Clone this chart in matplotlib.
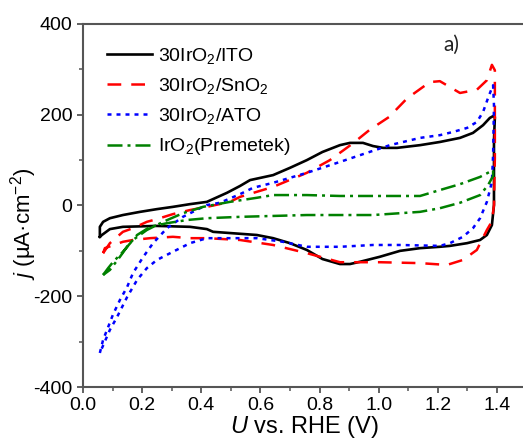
import matplotlib
matplotlib.use("Agg")
import matplotlib.pyplot as plt
from matplotlib.ticker import MultipleLocator, FormatStrFormatter

plt.rcParams["font.family"] = ["Liberation Sans", "DejaVu Sans"]
plt.rcParams["mathtext.fontset"] = "custom"
plt.rcParams["mathtext.rm"] = "Liberation Sans"
plt.rcParams["mathtext.it"] = "Liberation Sans:italic"
plt.rcParams["axes.unicode_minus"] = False

# Cyclic voltammograms: potential (V vs. RHE) and current density (uA/cm2), full loop
ito_u = [0.057, 0.057, 0.068, 0.091, 0.135, 0.193, 0.250, 0.304, 0.362, 0.419, 0.487,
         0.531, 0.565, 0.643, 0.700, 0.757, 0.810, 0.869, 0.903, 0.947, 0.981, 1.015,
         1.062, 1.140, 1.207, 1.275, 1.319, 1.353, 1.376, 1.387, 1.393, 1.390,
         1.390, 1.383, 1.366, 1.343, 1.299, 1.241, 1.207, 1.140, 1.072, 1.004, 0.937,
         0.903, 0.869, 0.810, 0.757, 0.700, 0.643, 0.588, 0.440, 0.419, 0.362, 0.250,
         0.135, 0.091, 0.064, 0.057]
ito_j = [-69, -47, -36, -28, -21, -14, -8, -3, 3, 8, 28,
         43, 56, 67, 83, 100, 118, 133, 138, 138, 131, 127,
         127, 133, 140, 149, 160, 177, 193, 197, 195, 144,
         1, -43, -65, -76, -83, -89, -91, -94, -100, -113, -124,
         -129, -129, -118, -98, -83, -72, -65, -58, -52, -47, -45,
         -47, -52, -65, -69]

sno2_u = [0.068, 0.091, 0.135, 0.169, 0.216, 0.250, 0.304, 0.362, 0.419, 0.497, 0.531,
          0.643, 0.757, 0.835, 0.913, 0.970, 1.035, 1.096, 1.173, 1.207, 1.241, 1.275,
          1.332, 1.366, 1.383, 1.393, 1.393, 1.390, 1.383, 1.366, 1.332, 1.285, 1.231,
          1.140, 1.004, 0.869, 0.757, 0.643, 0.531, 0.419, 0.362, 0.304, 0.227, 0.169,
          0.135, 0.074, 0.068]
sno2_j = [-105, -83, -58, -50, -36, -30, -19, -10, -3, 8, 19,
          41, 72, 100, 137, 167, 195, 236, 272, 274, 261, 248,
          255, 276, 310, 298, 105, 1, -35, -54, -98, -120, -131,
          -127, -125, -125, -105, -87, -76, -72, -72, -69, -72, -76,
          -80, -94, -105]

ato_u = [0.057, 0.068, 0.085, 0.101, 0.125, 0.149, 0.169, 0.203, 0.237, 0.284, 0.338,
         0.396, 0.419, 0.463, 0.531, 0.575, 0.643, 0.757, 0.869, 0.960, 1.038, 1.140,
         1.207, 1.251, 1.299, 1.332, 1.353, 1.370, 1.383, 1.387, 1.390, 1.387, 1.383,
         1.366, 1.343, 1.319, 1.285, 1.241, 1.207, 1.072, 0.981, 0.869, 0.757, 0.676,
         0.588, 0.440, 0.419, 0.362, 0.304, 0.250, 0.216, 0.183, 0.149, 0.115, 0.091,
         0.057]
ato_j = [-325, -296, -268, -241, -208, -180, -149, -114, -83, -50, -25,
         -6, 1, 6, 25, 39, 50, 72, 96, 116, 133, 149,
         155, 162, 171, 184, 206, 237, 259, 265, 221, 111, 52,
         8, -28, -50, -69, -83, -89, -87, -87, -91, -91, -80,
         -72, -72, -72, -83, -102, -120, -138, -164, -202, -246, -274,
         -325]

prem_u = [0.068, 0.085, 0.101, 0.135, 0.169, 0.216, 0.271, 0.338, 0.406, 0.497, 0.588,
          0.643, 0.757, 0.869, 0.981, 1.140, 1.207, 1.275, 1.343, 1.387,
          1.387, 1.370, 1.343, 1.275, 1.207, 1.140, 0.981, 0.757, 0.531, 0.419, 0.352,
          0.284, 0.227, 0.183, 0.149, 0.125, 0.091, 0.068]
prem_j = [-153, -138, -125, -102, -76, -54, -36, -17, -3, 8, 17,
          23, 23, 21, 21, 21, 34, 47, 63, 78,
          65, 45, 23, 6, -6, -14, -21, -21, -25, -28, -32,
          -39, -47, -65, -91, -113, -142, -153]

labels = ["30IrO$_2$/ITO", "30IrO$_2$/SnO$_2$", "30IrO$_2$/ATO", "IrO$_2$(Premetek)"]

fig = plt.figure(figsize=(5.23, 4.44), dpi=100)
ax = fig.add_axes([83 / 523, 57 / 444, 443.5 / 523, 363 / 444])

lw = 1.8
ax.plot(ito_u, ito_j, color="black", lw=lw + 0.1, label=labels[0])
ax.plot(sno2_u, sno2_j, color="#ff0000", lw=lw, dashes=(5.5, 4), label=labels[1])
ax.plot(ato_u, ato_j, color="#0000ff", lw=lw, dashes=(1.6, 2.0), label=labels[2])
ax.plot(prem_u, prem_j, color="#008000", lw=lw, dashes=(6, 2, 1.2, 2), label=labels[3])

ax.set_xlim(0, 1.5)
ax.set_ylim(-400, 400)
ax.xaxis.set_major_locator(MultipleLocator(0.2))
ax.xaxis.set_minor_locator(MultipleLocator(0.1))
ax.yaxis.set_major_locator(MultipleLocator(200))
ax.yaxis.set_minor_locator(MultipleLocator(100))
ax.xaxis.set_major_formatter(FormatStrFormatter("%.1f"))

spine_c = "#555555"
for s in ax.spines.values():
    s.set_color(spine_c)
    s.set_linewidth(1.5)
ax.spines["right"].set_visible(False)
ax.tick_params(which="major", direction="out", length=4.5, width=1.3, color=spine_c,
               labelsize=14, pad=3, top=False, right=False)
ax.tick_params(which="minor", direction="out", length=3, width=1.1, color=spine_c,
               top=False, right=False)

ax.set_xlabel("$U$ vs. RHE (V)", fontsize=17, labelpad=0)
ax.set_ylabel("$j$ (µA·cm$^{-2}$)", fontsize=16)
ax.yaxis.set_label_coords(-0.10, 0.45)

ax.text(1.22, 340, "a)", fontsize=15, family="Lato", color="#222222")

leg = ax.legend(loc="upper left", bbox_to_anchor=(24 / 443.5, 1 - 22 / 363),
                frameon=False, fontsize=14, handlelength=2.3, handletextpad=0.3,
                labelspacing=0.52, borderaxespad=0, borderpad=0)

fig.savefig("out.png", dpi=100)
